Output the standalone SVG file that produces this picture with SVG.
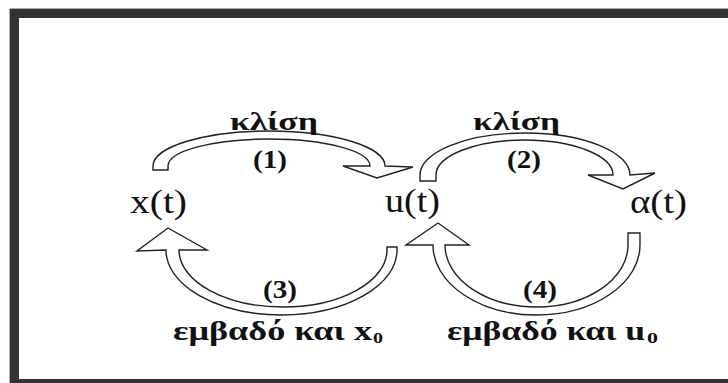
<svg xmlns="http://www.w3.org/2000/svg" width="728" height="383" viewBox="0 0 728 383" style="overflow:hidden">
<style>
.arr{fill:#fff;stroke:#222;stroke-width:1.4;stroke-linejoin:miter}
.v{font-size:33px}
.l{font-size:26px;font-weight:bold}
.b{font-size:28px;font-weight:bold}
.s{font-size:15px;font-weight:bold}
</style>
<rect x="0" y="0" width="728" height="383" fill="#fff"/>
<g id="frame" fill="#333">
<rect x="10" y="9" width="718" height="9"/>
<rect x="10" y="9" width="9" height="374"/>
<rect x="10" y="379" width="718" height="4"/>
<line x1="10" y1="8.5" x2="728" y2="8.5" stroke="#aaa" stroke-width="1"/>
<line x1="9.5" y1="9" x2="9.5" y2="383" stroke="#aaa" stroke-width="1"/>
</g>
<g id="connectors">
<path class="arr" d="M153,170 L153,166 A116,35 0 0 1 385,166 L413,167 L377,178 L343,166 L370,166 A101,27 0 0 0 168,166 L168,170 Z"/>
<path class="arr" d="M420,181 L420,175 A105,42 0 0 1 630,175 L655,173 L623,189 L588,175 L613,175 A88.5,35 0 0 0 436,175 L436,181 Z"/>
<path class="arr" d="M397,247 L397,250 A115.5,65 0 0 1 166,250 L137,251 L168,228 L207,250 L179,250 A104,57 0 0 0 387,250 L387,247 Z"/>
<path class="arr" d="M640,233 L640,245 A103.5,70 0 0 1 433,245 L406,245 L438,223 L469,245 L445,245 A91.5,62 0 0 0 628,245 L628,233 Z"/>
</g>
<g id="labels" font-family="Liberation Serif, serif" fill="#111">
<text class="l" x="230" y="130" textLength="88" lengthAdjust="spacingAndGlyphs">κλίση</text>
<text class="l" x="473" y="130" textLength="87" lengthAdjust="spacingAndGlyphs">κλίση</text>
<text class="l" x="253" y="168" textLength="34" lengthAdjust="spacingAndGlyphs">(1)</text>
<text class="l" x="507" y="168" textLength="34" lengthAdjust="spacingAndGlyphs">(2)</text>
<text class="l" x="263" y="298" textLength="34" lengthAdjust="spacingAndGlyphs">(3)</text>
<text class="l" x="523" y="298" textLength="34" lengthAdjust="spacingAndGlyphs">(4)</text>
<text class="b" x="173" y="340" textLength="199" lengthAdjust="spacingAndGlyphs">εμβαδό και x</text>
<text class="s" x="373" y="343" textLength="10" lengthAdjust="spacingAndGlyphs">0</text>
<text class="b" x="447" y="340" textLength="198" lengthAdjust="spacingAndGlyphs">εμβαδό και u</text>
<text class="s" x="647" y="343" textLength="11" lengthAdjust="spacingAndGlyphs">0</text>
</g>
<g id="node-x" font-family="Liberation Serif, serif" fill="#111">
<text class="v" x="130" y="213" textLength="57" lengthAdjust="spacingAndGlyphs">x(t)</text>
</g>
<g id="node-u" font-family="Liberation Serif, serif" fill="#111">
<text class="v" x="385" y="212" textLength="55" lengthAdjust="spacingAndGlyphs">u(t)</text>
</g>
<g id="node-a" font-family="Liberation Serif, serif" fill="#111">
<text class="v" x="630" y="213" textLength="57" lengthAdjust="spacingAndGlyphs">α(t)</text>
</g>
</svg>
